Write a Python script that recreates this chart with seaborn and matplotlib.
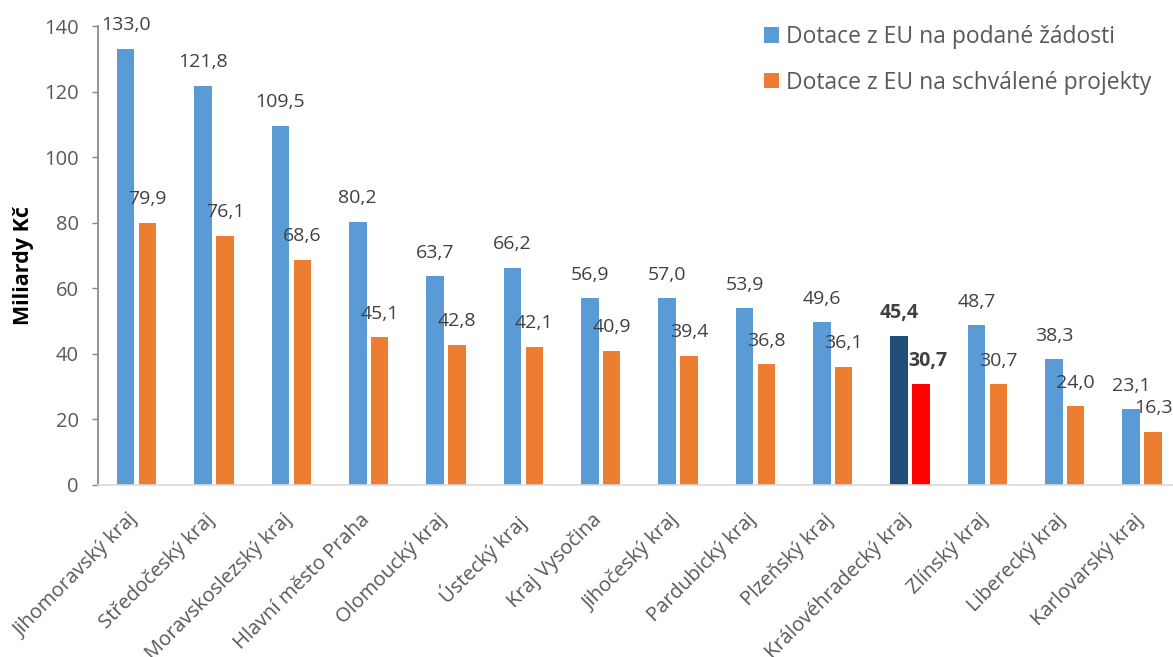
import matplotlib
matplotlib.use("Agg")
import matplotlib.pyplot as plt
from matplotlib.patches import Patch
import matplotlib.transforms as mtransforms
import seaborn as sns
import pandas as pd

regions = ["Jihomoravský kraj", "Středočeský kraj", "Moravskoslezský kraj",
           "Hlavní město Praha", "Olomoucký kraj", "Ústecký kraj", "Kraj Vysočina",
           "Jihočeský kraj", "Pardubický kraj", "Plzeňský kraj",
           "Královéhradecký kraj", "Zlínský kraj", "Liberecký kraj", "Karlovarský kraj"]
submitted = [133.0, 121.8, 109.5, 80.2, 63.7, 66.2, 56.9, 57.0, 53.9, 49.6, 45.4, 48.7, 38.3, 23.1]
approved = [79.9, 76.1, 68.6, 45.1, 42.8, 42.1, 40.9, 39.4, 36.8, 36.1, 30.7, 30.7, 24.0, 16.3]
series = ["Dotace z EU na podané žádosti", "Dotace z EU na schválené projekty"]
highlight = "Královéhradecký kraj"
yticks = [0, 20, 40, 60, 80, 100, 120, 140]

colors = ["#5B9BD5", "#ED7D31"]
hl_colors = ["#1F4E79", "#FF0000"]

df = pd.DataFrame({
    "region": regions * 2,
    "value": submitted + approved,
    "series": [series[0]] * len(regions) + [series[1]] * len(regions),
})

sns.set_theme(style="white")
plt.rcParams["font.family"] = ["Open Sans", "DejaVu Sans"]

fig = plt.figure(figsize=(11.73, 6.57), dpi=100)
ax = fig.add_axes([98 / 1173, 1 - 485 / 657, 1075 / 1173, (485 - 26) / 657])

sns.barplot(data=df, x="region", y="value", hue="series", hue_order=series,
            order=regions, palette=colors, saturation=1, width=0.564, gap=0.2,
            linewidth=0, legend=False, ax=ax)

hi = regions.index(highlight)
label_color = "#404040"
for ci, cont in enumerate(ax.containers):
    vals = submitted if ci == 0 else approved
    for i, patch in enumerate(cont.patches):
        bold = i == hi
        if bold:
            patch.set_facecolor(hl_colors[ci])
        x = patch.get_x() + patch.get_width() / 2
        dx = 5 if (bold and ci == 1) else 0
        ax.annotate(f"{vals[i]:.1f}".replace(".", ","), (x, patch.get_height()),
                    xytext=(dx, 17), textcoords="offset points", ha="center",
                    va="center", fontsize=14, color=label_color,
                    fontweight="bold" if bold else "normal")

ax.set_ylim(0, 140)
ax.set_yticks(yticks)
ax.set_xlim(-0.5, 13.4)
ax.set_xlabel("")
ax.set_ylabel("Miliardy Kč", fontsize=15.5, fontweight="bold", color="black")
ax.yaxis.set_label_coords(-0.06, 0.478)

ax.tick_params(axis="y", left=True, length=4, width=1, color="#868686",
               labelsize=14.5, labelcolor="#595959", pad=10)
ax.tick_params(axis="x", bottom=False, labelsize=14.5, labelcolor="#595959", pad=12)
shift = mtransforms.ScaledTranslation(-9 / 100, 0, fig.dpi_scale_trans)
for lbl in ax.get_xticklabels():
    lbl.set_rotation(45)
    lbl.set_ha("right")
    lbl.set_va("top")
    lbl.set_rotation_mode("anchor")
    lbl.set_transform(lbl.get_transform() + shift)

for s in ["top", "right"]:
    ax.spines[s].set_visible(False)
ax.spines["left"].set_color("#868686")
ax.spines["bottom"].set_color("#D9D9D9")
ax.spines["bottom"].set_linewidth(1.2)

handles = [Patch(facecolor=c, edgecolor="none") for c in colors]
fig.legend(handles, series, loc="upper left", bbox_to_anchor=(764 / 1173, 1 - 25 / 657),
           frameon=False, fontsize=16.5, handlelength=0.64, handleheight=0.64,
           handletextpad=0.3, labelspacing=0.95, borderpad=0, borderaxespad=0,
           labelcolor="#595959")

fig.savefig("out.png", dpi=100)
